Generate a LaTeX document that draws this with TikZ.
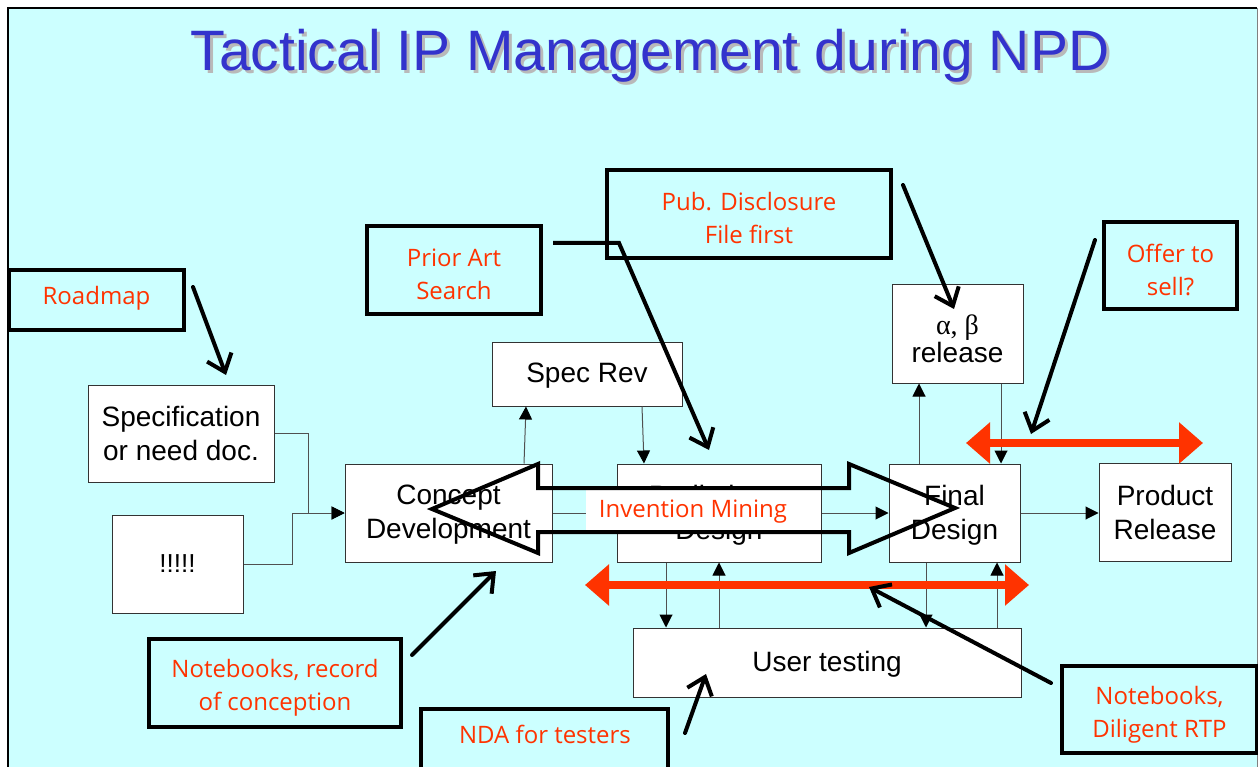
\documentclass[tikz,border=0pt]{standalone}
\usepackage{fontspec}
\setmainfont{Liberation Sans}
\newfontfamily\redfont{Open Sans}
\newfontfamily\greekfont{Liberation Serif}
\usetikzlibrary{arrows.meta}
\definecolor{bgcyan}{HTML}{CCFFFF}
\definecolor{ipred}{HTML}{FF3300}
\definecolor{titleblue}{HTML}{3333CC}
\definecolor{linegray}{HTML}{505050}
\begin{document}
\begin{tikzpicture}[x=1pt,y=-1pt,
 procbox/.style={draw=black!80, line width=1pt, fill=white, inner sep=0pt, align=center, font=\fontsize{28}{34}\selectfont},
 proctext/.style={inner sep=0pt, align=center, font=\fontsize{28}{34}\selectfont},
 callout/.style={draw=black, line width=4pt, fill=bgcyan, inner sep=0pt},
 calltext/.style={inner sep=0pt, align=center, text=ipred, font=\redfont\fontsize{24}{33}\selectfont},
 flow/.style={draw=linegray, line width=1pt, -{Triangle[length=13pt,width=13pt,color=black]}},
 pointer/.style={draw=black, line width=4pt, line cap=round, -{Straight Barb[length=16pt,width=26pt]}},
 bigred/.style={draw=ipred, line width=8pt, {Triangle[length=24pt,width=40pt]}-{Triangle[length=24pt,width=40pt]}},
]
\useasboundingbox (0,0) rectangle (1258,767);
\fill[white] (0,0) rectangle (1258,767);
\fill[bgcyan] (8,8) rectangle (1257,767);
\draw[line width=2pt] (8,775) -- (8,8) -- (1257,8);
\draw[gray, line width=1pt] (1257,8) -- (1257,775);

% title
\node[anchor=base, text=gray!55, font=\fontsize{57}{57}\selectfont] (titleshadow) at (653,74) {Tactical IP Management during NPD};
\node[anchor=base, text=titleblue, font=\fontsize{57}{57}\selectfont] (title) at (650,71) {Tactical IP Management during NPD};

% process boxes
\node[procbox, minimum width=186pt, minimum height=97pt] (spec) at (181,433.5) {Specification\\or need doc.};
\node[procbox, minimum width=131pt, minimum height=98pt, font=\fontsize{26}{30}\selectfont] (excl) at (177.5,564) {!!!!!};
\node[procbox, minimum width=207pt, minimum height=98pt, text depth=2pt] (concept) at (448.5,513) {Concept\\Development};
\node[procbox, minimum width=190pt, minimum height=64pt, text depth=3pt] (specrev) at (587,374) {Spec Rev};
\node[procbox, minimum width=204pt, minimum height=98pt, text depth=2pt] (prelim) at (719,513) {Preliminary\\Design};
\node[procbox, minimum width=131pt, minimum height=98pt, text depth=2pt] (final) at (954.5,513) {Final\\Design};
\node[procbox, minimum width=132pt, minimum height=98pt] (product) at (1165,512) {Product\\Release};
\node[procbox, minimum width=131pt, minimum height=98pt] (alpha) at (957.5,334) {};
\node[proctext] (alphatext) at (957.5,338.5) {{\greekfont α, β}\\[-6pt]release};
\node[procbox, minimum width=388pt, minimum height=69pt, text depth=3pt] (user) at (827,662.5) {User testing};

% flow connectors
\draw[flow] (spec.east) -- ++(34,0) |- (concept.west);
\draw[flow] (excl.east) -- ++(49,0) |- (concept.west);
\draw[flow] ([xshift=75.5pt]concept.north) -- ([xshift=-61pt]specrev.south);
\draw[flow] ([xshift=55pt]specrev.south) -- ([xshift=-75pt]prelim.north);
\draw[flow] (concept.east) -- (prelim.west);
\draw[flow] (prelim.east) -- (final.west);
\draw[flow] (final.east) -- (final.east -| product.west);
\draw[flow] ([xshift=-35.5pt]final.north) -- ([xshift=-38.5pt]alpha.south);
\draw[flow] ([xshift=43.5pt]alpha.south) -- ([xshift=46.5pt]final.north);
\draw[flow] ([xshift=-53pt]prelim.south) -- ([xshift=-161pt]user.north);
\draw[flow] ([xshift=-108pt]user.north) -- (prelim.south);
\draw[flow] ([xshift=-28.5pt]final.south) -- ([xshift=99pt]user.north);
\draw[flow] ([xshift=170pt]user.north) -- ([xshift=42.5pt]final.south);

% red double arrows
\coordinate (redtopL) at (966,443);
\coordinate (redtopR) at (1203,443);
\coordinate (redbotL) at (585,585);
\coordinate (redbotR) at (1029,585);
\draw[bigred] (redtopL) -- (redtopR);
\draw[bigred] (redbotL) -- (redbotR);

% invention mining
\node[fill=white, inner sep=0pt, minimum width=214pt, minimum height=41pt, text=ipred, font=\redfont\fontsize{24}{28}\selectfont, text depth=2pt] (mining) at (693,510) {Invention Mining};
\draw[line width=4pt, line join=miter] (432,509) -- (538,464) -- (538,488) -- (849,488) -- (849,464) -- (955,508) -- (849,553) -- (849,532) -- (538,532) -- (538,553) -- cycle;

% callouts
\node[callout, minimum width=175pt, minimum height=60pt] (roadmap) at (96.5,300) {};
\node[calltext] (roadmaptext) at (96.5,298) {Roadmap};
\node[callout, minimum width=174pt, minimum height=88pt] (priorart) at (454,270) {};
\node[calltext] (priorarttext) at (454,274) {Prior Art\\Search};
\node[callout, minimum width=284pt, minimum height=88pt] (pubdisc) at (749,214) {};
\node[calltext] (pubdisctext) at (749,218) {Pub. Disclosure\\File first};
\node[callout, minimum width=133pt, minimum height=87pt] (offer) at (1170.5,265.5) {};
\node[calltext] (offertext) at (1170.5,269.5) {Offer to\\sell?};
\node[callout, minimum width=252pt, minimum height=88pt] (nbrec) at (275,683) {};
\node[calltext] (nbrectext) at (275,688) {Notebooks, record\\of conception};
\node[callout, minimum width=247pt, minimum height=100pt] (nda) at (544.5,759) {};
\node[calltext] (ndatext) at (545,734) {NDA for testers};
\node[callout, minimum width=195pt, minimum height=87pt] (nbdil) at (1159.5,709.5) {};
\node[calltext] (nbdiltext) at (1159.5,714.5) {Notebooks,\\Diligent RTP};

% pointer arrows
\coordinate (roadS) at (193,287);   \coordinate (roadT) at (226,375);
\coordinate (priorS) at (553,243);  \coordinate (priorK) at (619,243); \coordinate (priorT) at (709,450);
\coordinate (pubS) at (903,185);    \coordinate (pubT) at (954,309);
\coordinate (offerS) at (1095,240); \coordinate (offerT) at (1031,434);
\coordinate (nbrecS) at (412,655);  \coordinate (nbrecT) at (496,571);
\coordinate (ndaS) at (685,733);    \coordinate (ndaT) at (706,674);
\coordinate (nbdilS) at (1051,683); \coordinate (nbdilT) at (869,587);
\draw[pointer] (roadS) -- (roadT);
\draw[pointer, line cap=butt] (priorS) -- (priorK) -- (priorT);
\draw[pointer] (pubS) -- (pubT);
\draw[pointer] (offerS) -- (offerT);
\draw[pointer] (nbrecS) -- (nbrecT);
\draw[pointer] (ndaS) -- (ndaT);
\draw[pointer] (nbdilS) -- (nbdilT);
\end{tikzpicture}
\end{document}
